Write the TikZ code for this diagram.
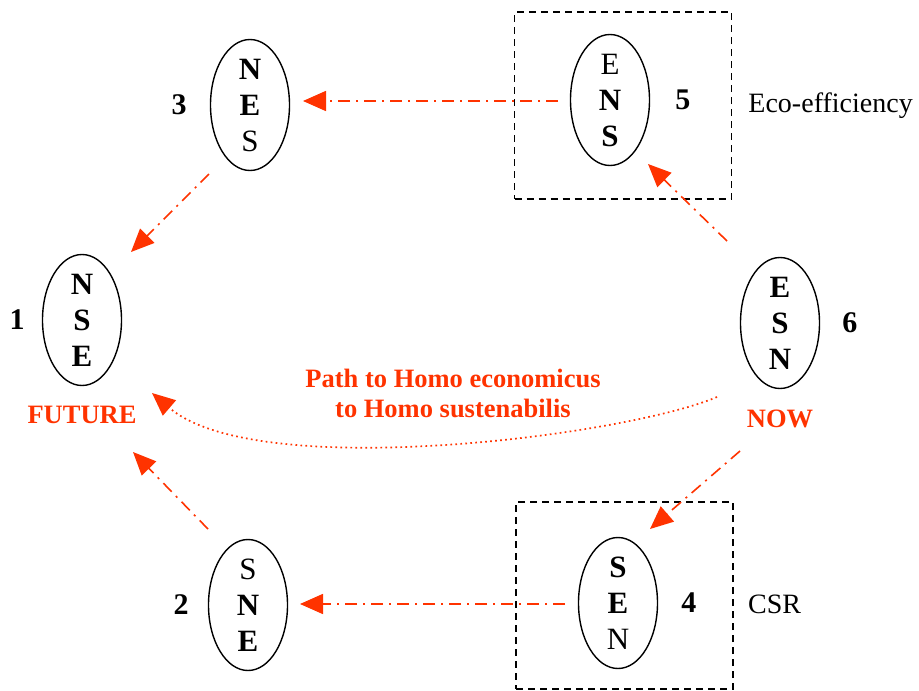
\documentclass[tikz,border=0pt]{standalone}
\usepackage{fontspec}
\setmainfont{Liberation Serif}
\usepackage{tikz}
\usetikzlibrary{arrows.meta,positioning,shapes.geometric}
\definecolor{HomoRed}{HTML}{FF3300}
\definecolor{HomoInk}{HTML}{000000}

\begin{document}
\begin{tikzpicture}[x=1pt,y=-1pt,>={Triangle[length=23pt,width=20pt]}]
  \tikzset{triad/.style={ellipse, draw=HomoInk, line width=1.4pt, minimum width=79pt, minimum height=131pt, inner sep=0pt, align=center, font=\fontsize{31}{36}\selectfont},
    stagenum/.style={inner sep=0pt, font=\fontsize{30}{30}\selectfont\bfseries},
    groupbox/.style={draw=HomoInk, line width=1.5pt, dash pattern=on 7pt off 5pt, minimum width=217pt, minimum height=187pt, inner sep=0pt},
    sidetag/.style={inner sep=0pt, font=\fontsize{28}{28}\selectfont},
    redtag/.style={inner sep=0pt, text=HomoRed, align=center, font=\fontsize{26.5}{30}\selectfont\bfseries},
    flowline/.style={->, color=HomoRed, line width=1.6pt, dash pattern=on 12pt off 6pt on 2pt off 6pt},
    pathline/.style={->, color=HomoRed, line width=1.7pt, dash pattern=on 1.7pt off 3.3pt}}
  \useasboundingbox (0,0) rectangle (919,691);
  % dashed groups
  \node[groupbox] (box5) at (623,105.5) {};
  \node[groupbox] (box4) at (624.5,595.5) {};
  % the six orderings
  \node[triad] (n1) at (82,320) {\textbf{N}\\\textbf{S}\\\textbf{E}};
  \node[triad] (n2) at (248,605) {S\\\textbf{N}\\\textbf{E}};
  \node[triad] (n3) at (250,105) {\textbf{N}\\\textbf{E}\\S};
  \node[triad] (n4) at (618,603) {\textbf{S}\\\textbf{E}\\N};
  \node[triad] (n5) at (610,100) {E\\\textbf{N}\\\textbf{S}};
  \node[triad] (n6) at (780,323) {\textbf{E}\\\textbf{S}\\\textbf{N}};
  % numbers
  \node[stagenum, left=17pt of n1] (k1) {1};
  \node[stagenum, left=19pt of n2] (k2) {2};
  \node[stagenum, left=23pt of n3] (k3) {3};
  \node[stagenum, right=23pt of n4] (k4) {4};
  \node[stagenum, right=25pt of n5] (k5) {5};
  \node[stagenum, right=22pt of n6] (k6) {6};
  % labels
  \node[redtag, below=20pt of n1] (future) {FUTURE};
  \node[redtag, below=21pt of n6] (now) {NOW};
  \node[redtag] (pathlbl) at (453,393) {Path to Homo economicus\\to Homo sustenabilis};
  \node[sidetag, right=16pt of box5] (eco) {Eco-efficiency};
  \node[sidetag, anchor=west] (csr) at (748,604) {CSR};
  % steps
  \foreach \a/\ax/\ay/\b/\bx/\by in {n5/-52/1/n3/53/-4, n3/-41/69/n1/49/-68, n6/-53/-82/n5/38/64, n6/-40/128/n4/32/-74, n4/-53/1/n2/52/-1, n2/-40/-76/n1/51/132}
    {\draw[flowline] ([shift={(\ax,\ay)}]\a.center) -- ([shift={(\bx,\by)}]\b.center);}
  \draw[pathline] ([shift={(-63,74)}]n6.center) .. controls ([shift={(-155,113)}]n6.center) and ([shift={(175,163)}]n1.center) .. ([shift={(70,73)}]n1.center);
\end{tikzpicture}
\end{document}
